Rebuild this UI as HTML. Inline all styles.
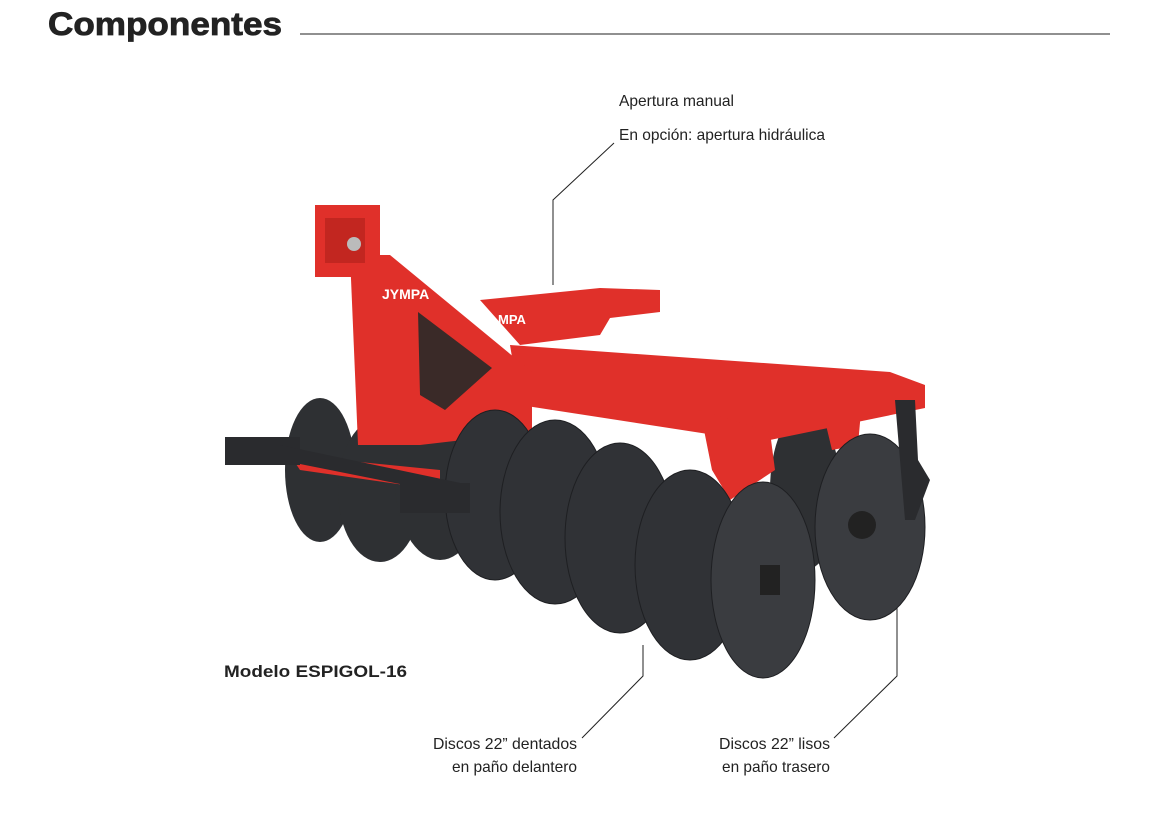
<!DOCTYPE html>
<html><head><meta charset="utf-8"><style>
html,body{margin:0;padding:0;background:#fff;width:1152px;height:815px;overflow:hidden}
svg{position:absolute;left:0;top:0}
</style></head><body>
<svg width="1152" height="815" viewBox="0 0 1152 815" xmlns="http://www.w3.org/2000/svg">
<text x="48" y="35" font-family="Liberation Sans, sans-serif" font-weight="bold" font-size="32" fill="#222" textLength="234" lengthAdjust="spacingAndGlyphs" stroke="#222" stroke-width="0.8">Componentes</text>
<line x1="300" y1="34" x2="1110" y2="34" stroke="#222" stroke-width="1"/>
<g font-family="Liberation Sans Narrow, Liberation Sans, sans-serif" font-size="16" fill="#222">
<text x="619" y="106" textLength="115" lengthAdjust="spacingAndGlyphs">Apertura manual</text>
<text x="619" y="140" textLength="206" lengthAdjust="spacingAndGlyphs">En opción: apertura hidráulica</text>
<text x="433" y="749" textLength="144" lengthAdjust="spacingAndGlyphs">Discos 22” dentados</text>
<text x="452" y="772" textLength="125" lengthAdjust="spacingAndGlyphs">en paño delantero</text>
<text x="719" y="749" textLength="111" lengthAdjust="spacingAndGlyphs">Discos 22” lisos</text>
<text x="722" y="772" textLength="108" lengthAdjust="spacingAndGlyphs">en paño trasero</text>
</g>
<text x="224" y="677" font-family="Liberation Sans, sans-serif" font-weight="bold" font-size="17" fill="#222" textLength="183" lengthAdjust="spacingAndGlyphs">Modelo ESPIGOL-16</text>
<g stroke="#222" stroke-width="1" fill="none">
<polyline points="614,143 553,200 553,285"/>
<polyline points="582,738 643,676 643,645"/>
<polyline points="834,738 897,676 897,590"/>
</g>
<g fill="#2e3033">
<ellipse cx="320" cy="470" rx="35" ry="72"/>
<ellipse cx="380" cy="490" rx="42" ry="72"/>
<ellipse cx="440" cy="480" rx="45" ry="80"/>
<ellipse cx="805" cy="490" rx="35" ry="80"/>
</g>
<g fill="#e0302a">
<polygon points="480,300 600,288 660,290 660,312 610,318 600,335 520,345"/>
<polygon points="510,345 890,372 925,385 925,408 760,442 520,405"/>
<polygon points="700,410 770,432 775,470 730,500 712,470"/>
<polygon points="820,400 862,400 858,445 832,450"/>
<polygon points="350,255 390,255 532,372 532,432 420,445 358,445"/>
<rect x="315" y="205" width="65" height="72"/>
<polygon points="290,455 440,470 440,490 300,470"/>
</g>
<polygon points="418,312 492,368 445,410 420,395" fill="#3a2a28"/>
<rect x="325" y="218" width="40" height="45" fill="#c22620"/>
<circle cx="354" cy="244" r="7" fill="#bbb"/>
<text x="382" y="299" font-family="Liberation Sans, sans-serif" font-weight="bold" font-size="14" fill="#fff">JYMPA</text>
<text x="498" y="324" font-family="Liberation Sans, sans-serif" font-weight="bold" font-size="13" fill="#fff">MPA</text>
<g fill="#303236" stroke="#1e1f22" stroke-width="1">
<ellipse cx="495" cy="495" rx="50" ry="85"/>
<ellipse cx="555" cy="512" rx="55" ry="92"/>
<ellipse cx="620" cy="538" rx="55" ry="95"/>
<ellipse cx="690" cy="565" rx="55" ry="95"/>
<ellipse cx="763" cy="580" rx="52" ry="98" fill="#3a3c40"/>
<ellipse cx="870" cy="527" rx="55" ry="93" fill="#3a3c40"/>
</g>
<rect x="760" y="565" width="20" height="30" fill="#222"/>
<circle cx="862" cy="525" r="14" fill="#222"/>
<polygon points="895,400 915,400 918,460 930,480 915,520 905,520" fill="#2a2b2e"/>
<g fill="#2a2b2e">
<rect x="225" y="437" width="75" height="28"/>
<polygon points="280,445 470,485 470,498 280,460"/>
<rect x="400" y="483" width="70" height="30"/>
</g>
</svg>
</body></html>
